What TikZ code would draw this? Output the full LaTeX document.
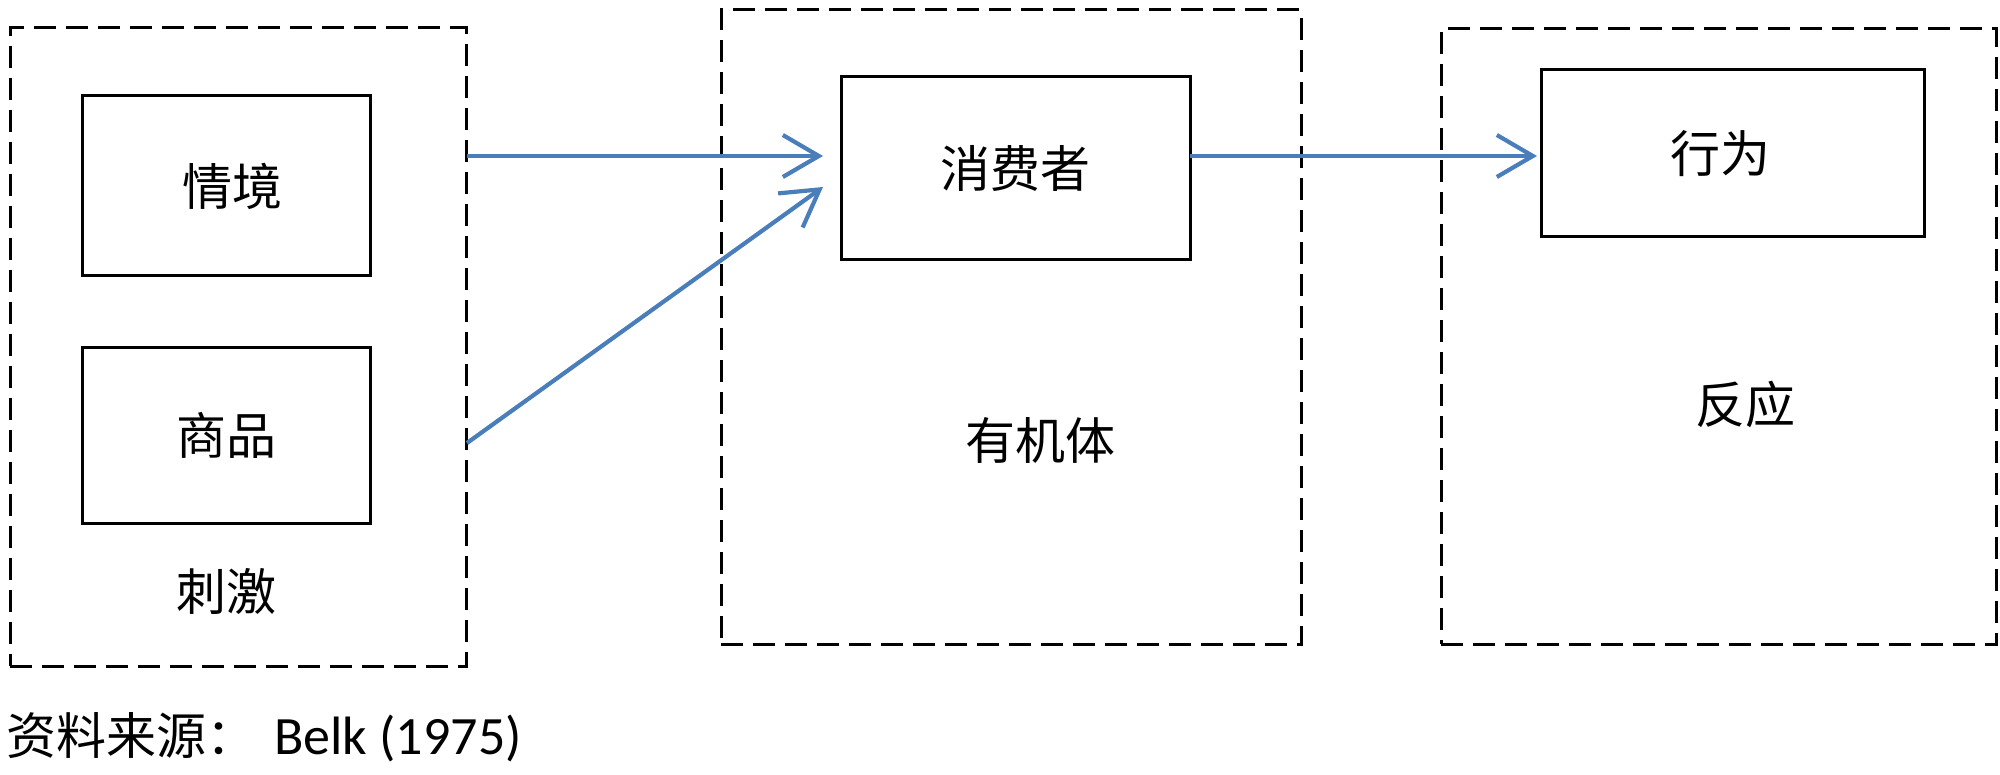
\documentclass[tikz,border=0pt]{standalone}
\usepackage{fontspec}
\newfontfamily\song{Noto Sans CJK SC}
\newfontfamily\latinfont{Carlito}
\usetikzlibrary{arrows.meta}
\definecolor{arrowblue}{RGB}{74,126,187}
\begin{document}
\begin{tikzpicture}[x=1pt,y=-1pt,
  outerbox/.style={draw=black, dash pattern=on 22pt off 10pt, line width=3pt, inner sep=0pt},
  innerbox/.style={draw=black, line width=3pt, inner sep=0pt, font=\song\fontsize{50}{60}\selectfont},
  lbl/.style={inner sep=0pt, font=\song\fontsize{50}{60}\selectfont},
  flow/.style={draw=arrowblue, line width=4.2pt, -{Straight Barb[length=36pt,width=42pt]}}]
\useasboundingbox (0,0) rectangle (2000,775);
% outer dashed groups
\node[outerbox, minimum width=456pt, minimum height=638pt] (stim) at (238,347) {};
\node[outerbox, minimum width=580pt, minimum height=634pt] (org) at (1011,327) {};
\node[outerbox, minimum width=555pt, minimum height=615pt] (resp) at (1718.5,336.5) {};
% inner boxes
\node[innerbox, minimum width=288pt, minimum height=180pt] (sit) at (226,186) {\hspace*{12pt}情境};
\node[innerbox, minimum width=288pt, minimum height=175pt] (goods) at (226,435.5) {商品};
\node[innerbox, minimum width=349pt, minimum height=183pt] (cons) at (1015.5,168.5) {消费者};
\node[innerbox, minimum width=383pt, minimum height=167pt] (beh) at (1732.5,153.5) {\raisebox{4pt}{行为}\hspace*{24pt}};
% group labels
\node[lbl] (stimlbl) at (226,591) {刺激};
\node[lbl] (orglbl) at (1040,440) {有机体};
\node[lbl] (resplbl) at (1745,404) {反应};
% caption
\node[lbl, anchor=west] (src) at (6,737) {资料来源：\hspace*{18pt}{\latinfont\fontsize{54}{60}\selectfont Belk (1975)}};
% connectors
\coordinate (a1s) at (467,156);
\coordinate (a1e) at (823,156);
\coordinate (a2s) at (467,443);
\coordinate (a2e) at (823,187);
\coordinate (a3s) at (1190,156);
\coordinate (a3e) at (1537,156);
\draw[flow] (a1s) -- (a1e);
\draw[flow] (a2s) -- (a2e);
\draw[flow] (a3s) -- (a3e);
\end{tikzpicture}
\end{document}
